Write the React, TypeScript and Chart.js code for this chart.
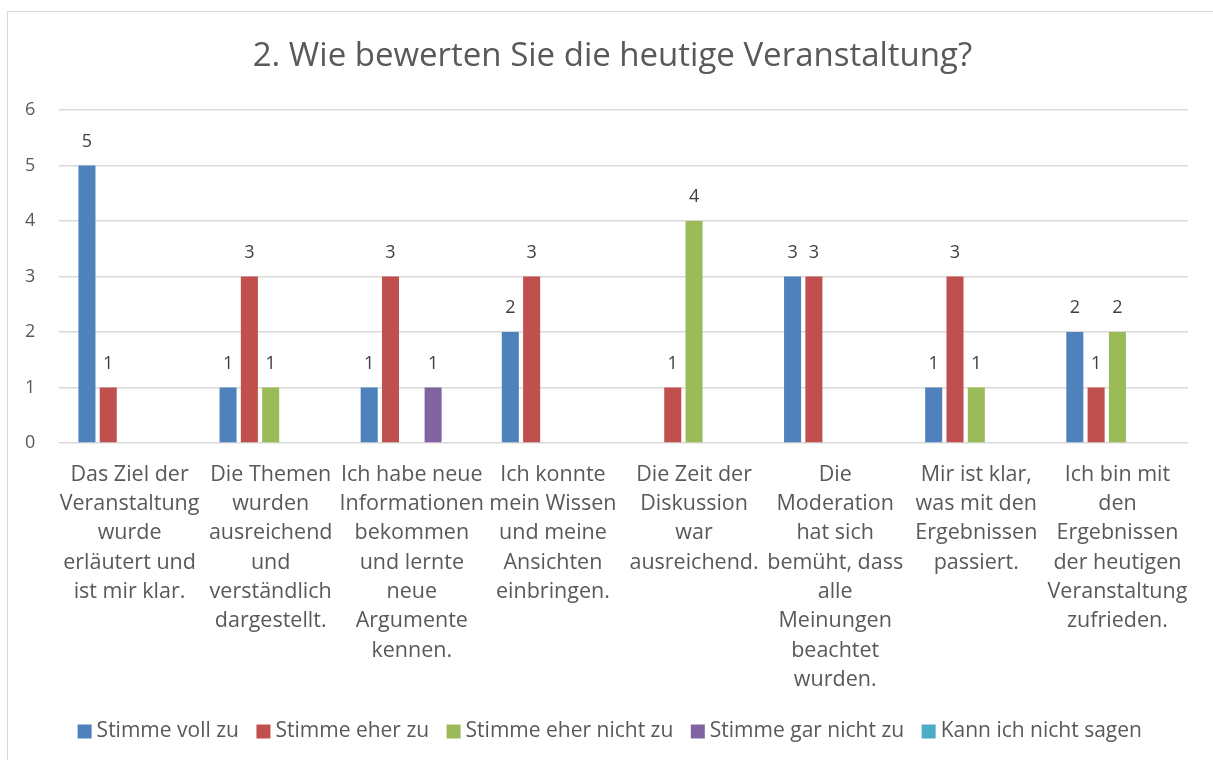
import React, { useEffect, useRef } from "react";
import { Chart, registerables } from "chart.js";

Chart.register(...registerables);

const chartTitle = "2. Wie bewerten Sie die heutige Veranstaltung?";

const categories: string[][] = [
  ["Das Ziel der", "Veranstaltung", "wurde", "erläutert und", "ist mir klar."],
  ["Die Themen", "wurden", "ausreichend", "und", "verständlich", "dargestellt."],
  ["Ich habe neue", "Informationen", "bekommen", "und lernte", "neue", "Argumente", "kennen."],
  ["Ich konnte", "mein Wissen", "und meine", "Ansichten", "einbringen."],
  ["Die Zeit der", "Diskussion", "war", "ausreichend."],
  ["Die", "Moderation", "hat sich", "bemüht, dass", "alle", "Meinungen", "beachtet", "wurden."],
  ["Mir ist klar,", "was mit den", "Ergebnissen", "passiert."],
  ["Ich bin mit", "den", "Ergebnissen", "der heutigen", "Veranstaltung", "zufrieden."],
];

const seriesNames = [
  "Stimme voll zu",
  "Stimme eher zu",
  "Stimme eher nicht zu",
  "Stimme gar nicht zu",
  "Kann ich nicht sagen",
];

const stimmeVollZu = [5, 1, 1, 2, 0, 3, 1, 2];
const stimmeEherZu = [1, 3, 3, 3, 1, 3, 3, 1];
const stimmeEherNichtZu = [0, 1, 0, 0, 4, 0, 1, 2];
const stimmeGarNichtZu = [0, 0, 1, 0, 0, 0, 0, 0];
const kannIchNichtSagen = [0, 0, 0, 0, 0, 0, 0, 0];

const seriesValues = [stimmeVollZu, stimmeEherZu, stimmeEherNichtZu, stimmeGarNichtZu, kannIchNichtSagen];
const seriesColors = ["#4F81BD", "#C0504D", "#9BBB59", "#8064A2", "#4BACC6"];

const yMin = 0;
const yMax = 6;
const yStep = 1;

const FONT = "'Open Sans', Lato, sans-serif";
const TEXT = "#595959";

const valueLabels = {
  id: "valueLabels",
  afterDatasetsDraw(chart: any) {
    const ctx = chart.ctx;
    ctx.save();
    ctx.font = `18px ${FONT}`;
    ctx.fillStyle = "#404040";
    ctx.textAlign = "center";
    ctx.textBaseline = "middle";
    chart.data.datasets.forEach((ds: any, i: number) => {
      const meta = chart.getDatasetMeta(i);
      meta.data.forEach((el: any, j: number) => {
        const v = ds.data[j];
        if (!v) return;
        ctx.fillText(String(v), el.x, el.y - 24);
      });
    });
    ctx.restore();
  },
};

export default function App() {
  const ref = useRef<HTMLCanvasElement | null>(null);

  useEffect(() => {
    if (!ref.current) return;
    const chart = new Chart(ref.current, {
      type: "bar",
      data: {
        labels: categories,
        datasets: seriesNames.map((name, i) => ({
          label: name,
          data: seriesValues[i],
          backgroundColor: seriesColors[i],
          borderWidth: 0,
          categoryPercentage: 0.755,
          barPercentage: 0.8,
        })),
      },
      options: {
        responsive: false,
        animation: false,
        layout: { padding: { left: 37, right: 25, top: 0, bottom: 8 } },
        plugins: {
          title: {
            display: true,
            text: chartTitle,
            color: TEXT,
            font: { family: FONT, size: 33, weight: "normal", lineHeight: 1.2 },
            padding: { top: 36.8, bottom: 33.6 },
          },
          legend: {
            position: "bottom",
            labels: {
              color: TEXT,
              font: { family: FONT, size: 21 },
              usePointStyle: true,
              pointStyle: "rect",
              boxWidth: 3,
              boxHeight: 14,
              padding: 23,
            },
          },
          tooltip: { enabled: false },
        },
        scales: {
          x: {
            grid: { display: false, drawTicks: false },
            border: { display: false },
            ticks: {
              color: TEXT,
              font: { family: FONT, size: 21.5, lineHeight: 29.3 / 21.5 },
              padding: 17,
              autoSkip: false,
              maxRotation: 0,
              minRotation: 0,
            },
            afterFit: (s: any) => {
              s.height = 255;
            },
          },
          y: {
            min: yMin,
            max: yMax,
            grid: { color: "#D9D9D9", lineWidth: 1.5, drawTicks: false },
            border: { display: false },
            ticks: {
              stepSize: yStep,
              color: TEXT,
              font: { family: FONT, size: 18 },
              mirror: true,
              crossAlign: "near",
              padding: -34,
            },
            afterFit: (s: any) => {
              s.width = 22;
            },
          },
        },
      },
      plugins: [valueLabels],
    });
    return () => chart.destroy();
  }, []);

  return (
    <div style={{ position: "absolute", left: 0, top: 0, width: 1213, height: 760, overflow: "hidden", background: "#fff" }}>
      <div
        style={{
          position: "absolute",
          left: 7,
          top: 11,
          width: 1230,
          height: 800,
          border: "1px solid #D9D9D9",
          boxSizing: "border-box",
        }}
      />
      <canvas ref={ref} width={1213} height={760} style={{ position: "absolute", left: 0, top: 0 }} />
    </div>
  );
}
